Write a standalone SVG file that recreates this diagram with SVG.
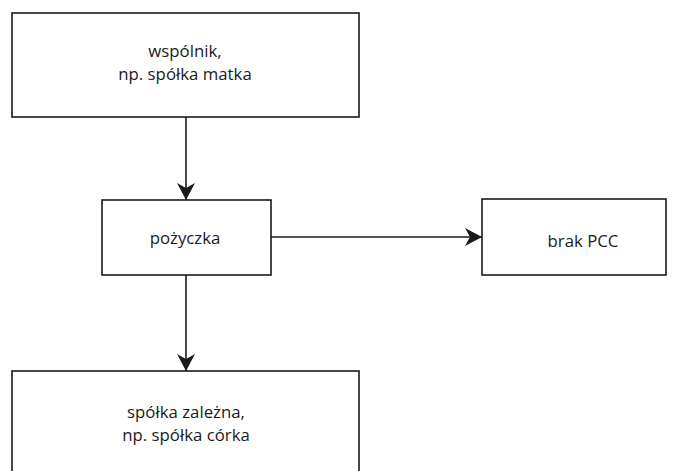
<svg xmlns="http://www.w3.org/2000/svg" width="678" height="471" viewBox="0 0 678 471">
<defs>
<style>
.box{fill:#fff;stroke:#1a1a1a;stroke-width:1.6}
.t{font-family:"Open Sans","Noto Sans","Liberation Sans",sans-serif;font-size:16.8px;fill:#1a1a1a;text-anchor:middle}
.c{stroke:#1a1a1a;stroke-width:1.6;fill:none}
</style>
<marker id="ah" viewBox="0 0 17 18" refX="17" refY="9" markerWidth="17" markerHeight="18" markerUnits="userSpaceOnUse" orient="auto">
<path d="M0,0 L17,9 L0,18 L5,9 Z" fill="#1a1a1a"/>
</marker>
</defs>
<rect width="678" height="471" fill="#fff"/>
<g id="connectors">
<line class="c" x1="186" y1="117" x2="186" y2="200" marker-end="url(#ah)"/>
<line class="c" x1="271" y1="237" x2="482" y2="237" marker-end="url(#ah)"/>
<line class="c" x1="186" y1="275" x2="186" y2="371" marker-end="url(#ah)"/>
</g>
<g id="wspolnik">
<rect class="box" x="12" y="13" width="347" height="104"/>
<text class="t" x="185" y="57">wspólnik,</text>
<text class="t" x="185" y="80">np. spółka matka</text>
</g>
<g id="pozyczka">
<rect class="box" x="102" y="200" width="169" height="75"/>
<text class="t" x="185" y="244">pożyczka</text>
</g>
<g id="brakpcc">
<rect class="box" x="482" y="199" width="184" height="76"/>
<text class="t" x="583" y="247">brak PCC</text>
</g>
<g id="spolka">
<rect class="box" x="12" y="371" width="347" height="110"/>
<text class="t" x="186" y="418">spółka zależna,</text>
<text class="t" x="186" y="441">np. spółka córka</text>
</g>
</svg>
